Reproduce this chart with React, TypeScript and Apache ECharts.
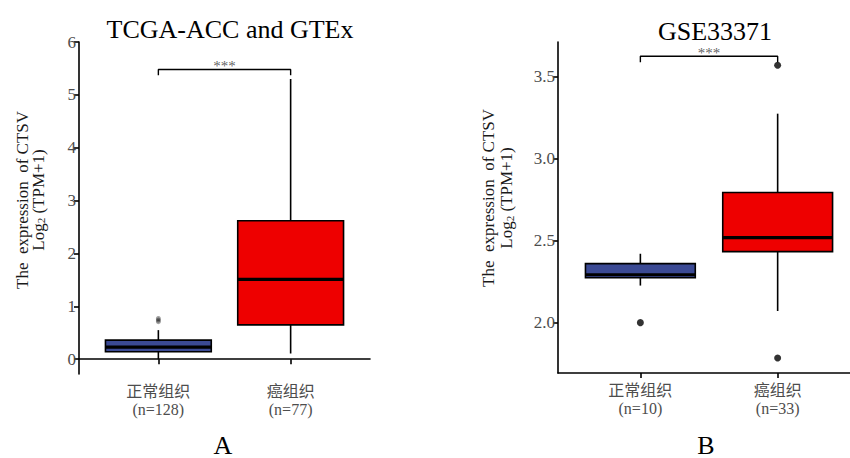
import React, { useEffect, useRef } from "react";
import * as echarts from "echarts";

const SERIF = "Liberation Serif, Times New Roman, serif";
const LABEL_FONT = "Liberation Serif, Noto Sans CJK SC, serif";

// Panel A: TCGA-ACC and GTEx
const titleA = "TCGA-ACC and GTEx";
const categoriesA = ["正常组织\n(n=128)", "癌组织\n(n=77)"];
// [x, lower whisker, Q1, median, Q3, upper whisker]
const boxNormalA = [1, 0.0, 0.14, 0.23, 0.36, 0.55];
const boxTumorA = [2, 0.11, 0.65, 1.51, 2.62, 5.3];
const outliersA = [
  [1, 0.77],
  [1, 0.74],
  [1, 0.71],
];
const ticksA = [0, 1, 2, 3, 4, 5, 6];
const bracketA = [
  [1, 5.37],
  [1, 5.48],
  [2, 5.48],
  [2, 5.37],
];
const sigA = [[1.5, 5.48]];

// Panel B: GSE33371
const titleB = "GSE33371";
const categoriesB = ["正常组织\n(n=10)", "癌组织\n(n=33)"];
const boxNormalB = [1, 2.226, 2.274, 2.292, 2.36, 2.42];
const boxTumorB = [2, 2.071, 2.433, 2.518, 2.793, 3.274];
const outliersB = [
  [1, 2.0],
  [2, 3.569],
  [2, 1.784],
];
const ticksB = [2.0, 2.5, 3.0, 3.5];
const bracketB = [
  [1, 3.587],
  [1, 3.624],
  [2, 3.624],
  [2, 3.587],
];
const sigB = [[1.5, 3.624]];

const BLUE = "#3B4A94";
const RED = "#EE0000";

function renderBox(params: any, api: any) {
  const x = api.value(0);
  const lo = api.value(1);
  const q1 = api.value(2);
  const med = api.value(3);
  const q3 = api.value(4);
  const hi = api.value(5);
  const pLo = api.coord([x, lo]);
  const pHi = api.coord([x, hi]);
  const tl = api.coord([x - 0.4, q3]);
  const br = api.coord([x + 0.4, q1]);
  const mL = api.coord([x - 0.4, med]);
  const mR = api.coord([x + 0.4, med]);
  const color = api.visual("color");
  return {
    type: "group",
    children: [
      {
        type: "line",
        shape: { x1: pLo[0], y1: pLo[1], x2: pHi[0], y2: pHi[1] },
        style: { stroke: "#000", lineWidth: 1.6 },
      },
      {
        type: "rect",
        shape: { x: tl[0], y: tl[1], width: br[0] - tl[0], height: br[1] - tl[1] },
        style: { fill: color, stroke: "#000", lineWidth: 1.6 },
      },
      {
        type: "line",
        shape: { x1: mL[0], y1: mL[1], x2: mR[0], y2: mR[1] },
        style: { stroke: "#000", lineWidth: 3.2 },
      },
    ],
  };
}

function yName(x: number, y: number, lh: number) {
  return {
    type: "text",
    x,
    y,
    rotation: Math.PI / 2,
    style: {
      text: "{a|The  expression  of CTSV}\n{a|Log}{s|2}{a| (TPM+1)}",
      fontFamily: SERIF,
      fontSize: 17,
      fill: "#1a1a1a",
      align: "center",
      verticalAlign: "middle",
      rich: {
        a: { fontSize: 17, fontFamily: SERIF, fill: "#1a1a1a", lineHeight: lh },
        s: {
          fontSize: 11,
          fontFamily: SERIF,
          fill: "#1a1a1a",
          lineHeight: lh,
          verticalAlign: "bottom",
          padding: [7, 0, 0, 0],
        },
      },
    },
  };
}

export default function App() {
  const ref = useRef<HTMLDivElement>(null);
  useEffect(() => {
    if (!ref.current) return;
    const chart = echarts.init(ref.current, null, { renderer: "svg" });
    const axisCommon = {
      axisLine: { show: true, lineStyle: { color: "#000", width: 1.6 } },
      axisTick: { show: true, length: 5, lineStyle: { color: "#000", width: 1.6 } },
      splitLine: { show: false },
    };
    const xAxisFor = (gridIndex: number, max: number, cats: string[]) => ({
      type: "value",
      gridIndex,
      min: 0.4,
      max,
      ...axisCommon,
      axisTick: { ...axisCommon.axisTick, customValues: [1, 2] },
      axisLabel: {
        customValues: [1, 2],
        formatter: (v: number) => cats[Math.round(v) - 1] ?? "",
        fontFamily: LABEL_FONT,
        fontSize: 16,
        lineHeight: 18,
        color: "#4d4d4d",
        margin: 8,
      },
    });
    const yAxisFor = (gridIndex: number, min: number, max: number, ticks: number[], digits: number) => ({
      type: "value",
      gridIndex,
      min,
      max,
      ...axisCommon,
      axisTick: { ...axisCommon.axisTick, customValues: ticks },
      axisLabel: {
        customValues: ticks,
        formatter: (v: number) => v.toFixed(digits),
        fontFamily: SERIF,
        fontSize: 17,
        color: "#4d4d4d",
        margin: 3,
      },
    });
    const sigLabel = {
      show: true,
      position: "inside",
      offset: [0, -3],
      formatter: "***",
      fontFamily: SERIF,
      fontSize: 15,
      color: "#333",
    };
    chart.setOption({
      animation: false,
      backgroundColor: "#fff",
      textStyle: { fontFamily: SERIF },
      title: [
        {
          text: titleA,
          left: 225,
          top: 11,
          textAlign: "center",
          textStyle: { fontFamily: SERIF, fontSize: 26, fontWeight: "normal", color: "#000" },
        },
        {
          text: titleB,
          left: 710,
          top: 13,
          textAlign: "center",
          textStyle: { fontFamily: SERIF, fontSize: 26, fontWeight: "normal", color: "#000" },
        },
      ],
      grid: [
        { left: 79, top: 42, width: 291, height: 332 },
        { left: 558, top: 42, right: 0, height: 331 },
      ],
      xAxis: [xAxisFor(0, 2.6, categoriesA), xAxisFor(1, 2.527, categoriesB)],
      yAxis: [yAxisFor(0, -0.28, 6, ticksA, 0), yAxisFor(1, 1.693, 3.711, ticksB, 1)],
      series: [
        {
          type: "custom",
          xAxisIndex: 0,
          yAxisIndex: 0,
          renderItem: renderBox,
          encode: { x: 0, y: [1, 2, 3, 4, 5] },
          data: [
            { value: boxNormalA, itemStyle: { color: BLUE } },
            { value: boxTumorA, itemStyle: { color: RED } },
          ],
        },
        {
          type: "scatter",
          xAxisIndex: 0,
          yAxisIndex: 0,
          symbolSize: 5,
          itemStyle: { color: "rgba(0,0,0,0.45)" },
          data: outliersA,
        },
        {
          type: "line",
          xAxisIndex: 0,
          yAxisIndex: 0,
          symbol: "none",
          lineStyle: { color: "#000", width: 1.4 },
          data: bracketA,
        },
        {
          type: "scatter",
          xAxisIndex: 0,
          yAxisIndex: 0,
          symbolSize: 0,
          data: sigA,
          label: sigLabel,
        },
        {
          type: "custom",
          xAxisIndex: 1,
          yAxisIndex: 1,
          renderItem: renderBox,
          encode: { x: 0, y: [1, 2, 3, 4, 5] },
          data: [
            { value: boxNormalB, itemStyle: { color: BLUE } },
            { value: boxTumorB, itemStyle: { color: RED } },
          ],
        },
        {
          type: "scatter",
          xAxisIndex: 1,
          yAxisIndex: 1,
          symbolSize: 7,
          itemStyle: { color: "#000" },
          data: outliersB,
        },
        {
          type: "line",
          xAxisIndex: 1,
          yAxisIndex: 1,
          symbol: "none",
          lineStyle: { color: "#000", width: 1.4 },
          data: bracketB,
        },
        {
          type: "scatter",
          xAxisIndex: 1,
          yAxisIndex: 1,
          symbolSize: 0,
          data: sigB,
          label: sigLabel,
        },
      ],
      graphic: [
        yName(30, 200, 16),
        yName(497, 198, 18),
        {
          type: "text",
          x: 223,
          y: 445,
          style: {
            text: "A",
            fontFamily: SERIF,
            fontSize: 26,
            lineHeight: 26,
            fill: "#000",
            align: "center",
            verticalAlign: "middle",
          },
        },
        {
          type: "text",
          x: 706,
          y: 445,
          style: {
            text: "B",
            fontFamily: SERIF,
            fontSize: 26,
            lineHeight: 26,
            fill: "#000",
            align: "center",
            verticalAlign: "middle",
          },
        },
      ],
    });
    return () => chart.dispose();
  }, []);
  return (
    <div
      ref={ref}
      style={{ position: "fixed", left: 0, top: 0, width: 850, height: 458, background: "#fff" }}
    />
  );
}
